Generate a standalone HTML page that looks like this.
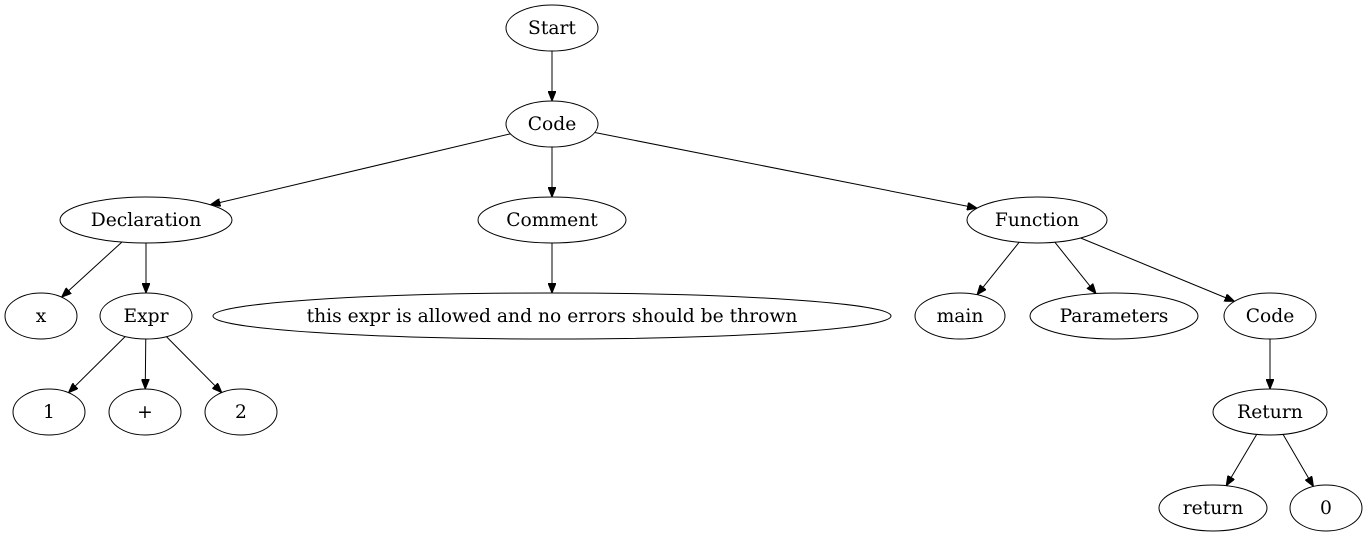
<!DOCTYPE html>
<html><head><meta charset="utf-8">
<style>
html,body{margin:0;padding:0;background:#fff;}
svg{display:block}
text{font-family:"DejaVu Serif",serif;font-size:18.7px;fill:#000}
</style></head>
<body>
<svg id="g" width="1368" height="539" viewBox="0 0 1368 539" xmlns="http://www.w3.org/2000/svg">
<defs>
<marker id="a" markerWidth="10" markerHeight="8" refX="10" refY="4" orient="auto" markerUnits="userSpaceOnUse">
<path d="M0,0 L10,4 L0,8 Z" fill="#000" stroke="#000"/>
</marker>
</defs>
</svg>
<script>
var N={
Start:[552,28,46,'Start'],Code:[552,124,46,'Code'],Decl:[146,220,86,'Declaration'],
Comment:[552,220,74,'Comment'],Func:[1037,220,70,'Function'],x:[41,316,36,'x'],
Expr:[146,316,46,'Expr'],Txt:[552,316,339,'this expr is allowed and no errors should be thrown'],
main:[960,316,45,'main'],Params:[1114,316,84,'Parameters'],Code2:[1270,316,46,'Code'],
n1:[49,412,36,'1'],plus:[145,412,36,'+'],n2:[241,412,36,'2'],Ret:[1270,412,57,'Return'],
ret:[1213,508,54,'return'],z:[1326,508,36,'0']};
var E=[['Start','Code'],['Code','Decl'],['Code','Comment'],['Code','Func'],['Decl','x'],['Decl','Expr'],
['Comment','Txt'],['Func','main'],['Func','Params'],['Func','Code2'],['Expr','n1'],['Expr','plus'],['Expr','n2'],
['Code2','Ret'],['Ret','ret'],['Ret','z']];
var RY=23,s='';
function bd(n,dx,dy){var rx=n[2],t=1/Math.sqrt(dx*dx/(rx*rx)+dy*dy/(RY*RY));return [n[0]+dx*t,n[1]+dy*t];}
for(var k in N){var n=N[k];s+='<ellipse cx="'+n[0]+'" cy="'+n[1]+'" rx="'+n[2]+'" ry="'+RY+'" fill="none" stroke="#000" stroke-width="1"/>'+
'<text x="'+n[0]+'" y="'+(n[1]+6)+'" text-anchor="middle">'+n[3]+'</text>';}
E.forEach(function(e){var a=N[e[0]],b=N[e[1]],dx=b[0]-a[0],dy=b[1]-a[1];
var p=bd(a,dx,dy),q=bd(b,-dx,-dy);
s+='<line x1="'+p[0]+'" y1="'+p[1]+'" x2="'+q[0]+'" y2="'+q[1]+'" stroke="#000" stroke-width="1" marker-end="url(#a)"/>';});
document.getElementById('g').insertAdjacentHTML('beforeend',s);
</script>
</body></html>
